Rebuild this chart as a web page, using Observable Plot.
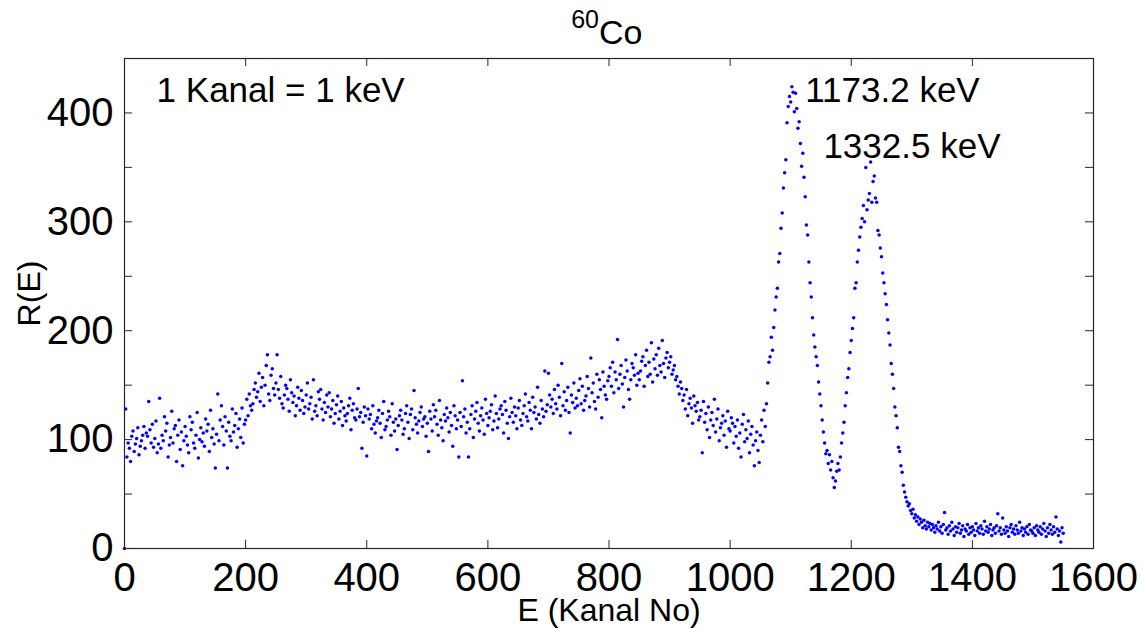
<!DOCTYPE html>
<html>
<head>
<meta charset="utf-8">
<script src="https://cdn.jsdelivr.net/npm/d3@7"></script>
<script src="https://cdn.jsdelivr.net/npm/@observablehq/plot@0.6"></script>
<style>
  body { margin: 0; background: #fff; }
  #chart svg { display: block; }
</style>
</head>
<body>
<div id="chart"></div>
<script>
// Channel step between recorded points (channels 0, 2, 4, ... 1550)
const channelStep = 2;

// R(E) counts, channels 0–548
const countsLow = [
  0, 128, 84, 97, 92, 80, 103, 108, 89, 96, 101, 111, 86, 94, 99, 104, 112, 92, 106, 103, 135, 109, 97, 114, 93,
  101, 117, 88, 96, 138, 92, 104, 99, 121, 108, 115, 84, 95, 102, 126, 97, 110, 113, 80, 104, 118, 91, 107, 76, 99,
  112, 103, 95, 88, 121, 109, 116, 97, 92, 104, 125, 83, 100, 111, 98, 106, 94, 119, 108, 114, 89, 127, 102, 110, 96,
  74, 105, 142, 99, 118, 131, 112, 95, 121, 108, 74, 116, 103, 99, 128, 107, 113, 124, 93, 110, 119, 102, 129, 97, 114,
  118, 137, 122, 142, 131, 127, 133, 146, 152, 139, 144, 161, 135, 148, 157, 131, 150, 168, 178, 142, 136, 159, 165, 147, 141,
  152, 178, 146, 138, 158, 133, 129, 141, 150, 147, 137, 126, 155, 143, 134, 140, 122, 131, 148, 138, 127, 145, 136, 124, 130,
  141, 152, 128, 133, 139, 119, 155, 126, 131, 122, 144, 137, 146, 128, 118, 134, 125, 141, 130, 143, 121, 128, 136, 115, 124,
  132, 140, 119, 126, 135, 113, 129, 122, 117, 124, 131, 138, 109, 127, 133, 120, 118, 128, 147, 121, 125, 92, 116, 130, 122,
  85, 128, 119, 123, 110, 131, 114, 106, 117, 120, 127, 115, 102, 124, 135, 109, 112, 118, 126, 121, 104, 133, 116, 108, 119,
  91, 113, 122, 127, 118, 105, 110, 124, 131, 116, 101, 123, 128, 109, 145, 120, 114, 106, 117, 125, 130, 112, 119, 121, 103,
  115, 89, 126, 119, 108, 132, 121, 127, 114, 104, 136, 118, 111, 99, 123, 117, 129, 120, 107, 125, 113, 94, 131, 122, 110
];

// channels 550–1048 (Compton continuum)
const countsMid = [
  118, 84, 125, 112, 154, 121, 128, 106, 116, 84, 110, 123, 131, 102, 119, 126, 134, 115, 108, 122, 129, 118, 105, 137, 124,
  113, 120, 126, 132, 109, 117, 140, 124, 111, 119, 128, 131, 123, 106, 135, 127, 115, 101, 121, 138, 125, 116, 130, 122, 110,
  129, 136, 118, 113, 124, 131, 142, 121, 117, 134, 127, 110, 139, 125, 130, 119, 148, 123, 115, 136, 128, 121, 163, 126, 132,
  161, 141, 130, 137, 124, 146, 133, 128, 150, 139, 122, 170, 131, 144, 127, 136, 148, 125, 106, 141, 134, 152, 129, 138, 131,
  145, 156, 133, 149, 127, 136, 140, 158, 147, 130, 175, 143, 152, 135, 128, 160, 139, 155, 146, 120, 162, 149, 141, 137, 154,
  158, 166, 149, 171, 143, 162, 155, 192, 147, 160, 168, 151, 130, 157, 173, 163, 146, 137, 155, 170, 166, 159, 178, 150, 161,
  155, 163, 172, 176, 149, 168, 182, 158, 171, 160, 189, 153, 174, 165, 178, 159, 184, 168, 162, 191, 170, 157, 175, 180, 166,
  171, 176, 160, 164, 168, 155, 158, 149, 142, 153, 147, 136, 141, 128, 146, 122, 133, 138, 129, 115, 140, 131, 126, 134, 118,
  121, 127, 88, 135, 116, 124, 109, 130, 102, 118, 125, 113, 137, 107, 119, 128, 99, 111, 115, 122, 104, 117, 93, 126, 110,
  108, 120, 115, 97, 112, 103, 118, 92, 106, 84, 114, 123, 98, 109, 101, 117, 88, 105, 112, 95, 76, 99, 107, 90, 79
];

// channels 1050–1348 (photopeaks)
const countsPeaks = [
  104, 118, 98, 127, 112, 133, 152, 171, 176, 194, 182, 203, 219, 231, 239, 263, 271, 294, 308, 331, 345, 357, 391, 406, 415,
  410, 424, 419, 401, 418, 404, 386, 392, 372, 351, 363, 341, 323, 297, 288, 263, 244, 231, 212, 196, 185, 176, 168, 153, 142,
  131, 118, 107, 97, 87, 90, 78, 86, 72, 80, 65, 56, 62, 71, 78, 72, 84, 97, 106, 116, 131, 143, 157, 165, 180,
  191, 202, 212, 239, 244, 263, 274, 286, 295, 303, 315, 300, 350, 311, 320, 326, 355, 318, 337, 342, 322, 318, 292, 288, 276,
  268, 253, 244, 234, 224, 210, 198, 187, 170, 160, 147, 130, 122, 111, 93, 89, 76, 70, 58, 52, 47, 43, 39, 41, 35,
  32, 36, 28, 31, 25, 29, 22, 27, 24, 19, 26, 21, 18, 24, 20, 23, 17, 22, 19, 15, 21, 18, 24, 16, 20
];

// channels 1350–1550 (background tail)
const countsTail = [
  14, 22, 33, 17, 19, 13, 21, 16, 24, 18, 12, 20, 15, 19, 23, 14, 17, 21, 11, 18, 16, 22, 13, 19, 15,
  20, 17, 12, 23, 16, 19, 14, 21, 18, 13, 25, 16, 20, 15, 18, 22, 12, 17, 19, 14, 21, 32, 16, 19, 13,
  28, 17, 14, 20, 16, 11, 19, 22, 15, 18, 13, 21, 17, 14, 24, 16, 19, 12, 18, 15, 20, 13, 22, 17, 16,
  14, 19, 12, 21, 17, 15, 20, 13, 18, 23, 16, 11, 19, 14, 22, 17, 13, 20, 15, 29, 18, 12, 16, 6, 19,
  14
];

const xTicks = [0, 200, 400, 600, 800, 1000, 1200, 1400, 1600];
const yTicks = [0, 100, 200, 300, 400];
const yMinorTicks = [0, 50, 100, 150, 200, 250, 300, 350, 400, 450];

const titleNuclide = "Co";
const titleMass = "60";
const xLabel = "E (Kanal No)";
const yLabel = "R(E)";
const annotations = [
  {E: 53, R: 410, label: "1 Kanal = 1 keV"},
  {E: 1124, R: 410, label: "1173.2 keV"},
  {E: 1154, R: 359, label: "1332.5 keV"}
];

const counts = [...countsLow, ...countsMid, ...countsPeaks, ...countsTail];
const spectrum = counts.map((r, i) => ({E: i * channelStep, R: r}));

const W = 1147, H = 628;
const mL = 124, mR = 54, mT = 58, mB = 80;
const xMax = 1600, yMax = 450;
const tickPx = 8;
const tickY = tickPx * yMax / (H - mT - mB);
const tickX = tickPx * xMax / (W - mL - mR);
const axisColor = "#262626";

const chart = Plot.plot({
  width: W,
  height: H,
  marginLeft: mL,
  marginRight: mR,
  marginTop: mT,
  marginBottom: mB,
  style: {fontFamily: "'Liberation Sans', Arial, sans-serif", fontSize: "40px", color: "#000", background: "#fff"},
  x: {domain: [0, xMax]},
  y: {domain: [0, yMax]},
  marks: [
    // inward ticks on all four sides
    Plot.ruleX(xTicks, {x: d => d, y1: 0, y2: tickY, stroke: axisColor}),
    Plot.ruleX(xTicks, {x: d => d, y1: yMax, y2: yMax - tickY, stroke: axisColor}),
    Plot.ruleY(yMinorTicks, {y: d => d, x1: 0, x2: tickX, stroke: axisColor}),
    Plot.ruleY(yMinorTicks, {y: d => d, x1: xMax, x2: xMax - tickX, stroke: axisColor}),
    Plot.dot(spectrum, {x: "E", y: "R", r: 1.75, fill: "#0000ff", stroke: null}),
    Plot.frame({stroke: axisColor, strokeWidth: 1.2}),
    Plot.axisX(xTicks, {tickSize: 0, tickPadding: 14, tickFormat: "d", fontSize: 40, label: null, fill: "#000"}),
    Plot.axisY(yTicks, {tickSize: 0, tickPadding: 11, tickFormat: "d", fontSize: 40, label: null, fill: "#000"}),
    Plot.text(annotations, {x: "E", y: "R", text: "label", textAnchor: "start", lineAnchor: "bottom", fontSize: 35, fill: "#000"}),
    Plot.text([titleMass], {text: d => d, frameAnchor: "top", textAnchor: "end", lineAnchor: "bottom", dx: -10, dy: -31, fontSize: 25, fill: "#000"}),
    Plot.text([titleNuclide], {text: d => d, frameAnchor: "top", textAnchor: "start", lineAnchor: "bottom", dx: -10, dy: -15, fontSize: 34, fill: "#000"}),
    Plot.text([xLabel], {text: d => d, frameAnchor: "bottom", lineAnchor: "bottom", dy: 72, fontSize: 32, fill: "#000"}),
    Plot.text([yLabel], {text: d => d, frameAnchor: "left", rotate: -90, lineAnchor: "middle", textAnchor: "middle", dx: -95, dy: -10, fontSize: 32, fill: "#000"})
  ]
});

document.getElementById("chart").appendChild(chart);
</script>
</body>
</html>
